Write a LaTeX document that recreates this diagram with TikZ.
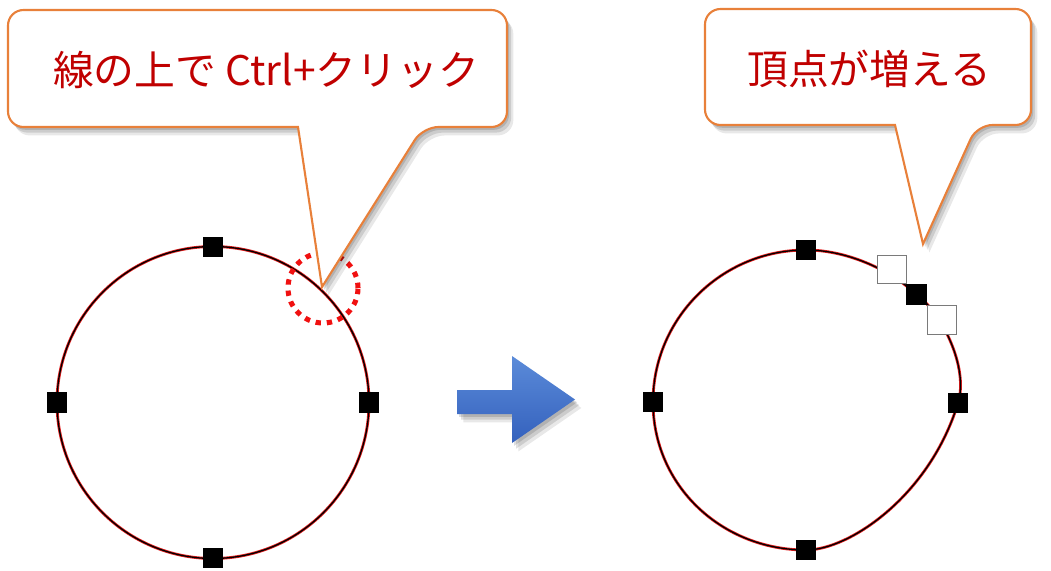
\documentclass[tikz,border=0pt]{standalone}
\usepackage{fontspec}
\newfontfamily\jpfont{Noto Sans CJK JP}
\usetikzlibrary{shadows}
\definecolor{bord}{HTML}{E8803A}
\definecolor{txt}{HTML}{C00000}
\definecolor{hit}{HTML}{F01010}
\definecolor{ringred}{HTML}{E01B1B}
\definecolor{arrtop}{HTML}{5B8BD9}
\definecolor{arrbot}{HTML}{3461BD}
\definecolor{hollow}{HTML}{7A7A7A}
\tikzset{
  soft/.style={drop shadow={shadow xshift=1.5pt, shadow yshift=-2pt, opacity=0.13, fill=black},
    drop shadow={shadow xshift=3pt, shadow yshift=-4pt, opacity=0.12, fill=black},
    drop shadow={shadow xshift=4.5pt, shadow yshift=-6pt, opacity=0.09, fill=black}},
  bubble/.style={soft, draw=bord, line width=1.5pt, fill=white},
  lbl/.style={font=\jpfont\fontsize{29}{31}\selectfont, text=txt, inner sep=0pt},
  ring/.style={draw=ringred, double=black, double distance=0.9pt, line width=0.55pt},
  vtx/.style={rectangle, fill=black, minimum size=0.52cm, inner sep=0pt},
  newvtx/.style={rectangle, fill=white, draw=hollow, line width=0.8pt, minimum size=0.72cm, inner sep=0pt},
  dots/.style={draw=hit, line width=3.6pt, dash pattern=on 3.8pt off 4.2pt},
}

\begin{document}
\begin{tikzpicture}[x=0.025cm, y=-0.025cm]
\useasboundingbox (0,0) rectangle (1051,571);

% ---------------- left: circle before ----------------
\coordinate (lc) at (213,402.5);
\draw[ring] (lc) circle[radius=156];
\foreach \n/\p in {t/{(213,247)}, b/{(213,558)}, l/{(57,402.5)}, r/{(369,402.5)}}
  \node[vtx] (l-\n) at \p {};
\node[circle, dots, minimum size=1.75cm, inner sep=0pt] (click) at (323,288) {};

% callout 1
\coordinate (tipL) at (322,287);
\draw[bubble] (tipL) -- (298,127) [rounded corners=11pt] -- (8,127) -- (8,10) -- (507,10)
  -- (507,127) -- (423,127) [sharp corners] -- cycle;
\node[lbl] (say1) at (266,70) {線の上で Ctrl+クリック};

% ---------------- arrow ----------------
\path[soft, top color=arrtop, bottom color=arrbot]
  (457,390) -- (512,390) -- (512,356) -- (575,399.5) -- (512,443) -- (512,414) -- (457,414) -- cycle;

% ---------------- right: shape after ----------------
\coordinate (rt) at (806,250); \coordinate (rm) at (916.5,294.5);
\coordinate (rr) at (958,403); \coordinate (rb) at (806,550);
\coordinate (rl) at (653,402);
\draw[ring] (rl) .. controls (653,318) and (722,250) .. (rt)
  .. controls (845,250) and (888,268) .. (rm)
  .. controls (942,313) and (969,368) .. (rr)
  .. controls (930,495) and (850,550) .. (rb)
  .. controls (722,550) and (653,486) .. (rl);
\foreach \n in {t,m,r,b,l} \node[vtx] (v-\n) at (r\n) {};
\node[newvtx] (h1) at (892,269.5) {};
\node[newvtx] (h2) at (942,320) {};

% callout 2
\coordinate (tipR) at (923,244);
\draw[bubble] (tipR) -- (895,125) [rounded corners=11pt] -- (705,125) -- (705,9) -- (1031,9)
  -- (1031,125) -- (977,125) [sharp corners] -- cycle;
\node[lbl] (say2) at (869,69) {頂点が増える};
\end{tikzpicture}
\end{document}
